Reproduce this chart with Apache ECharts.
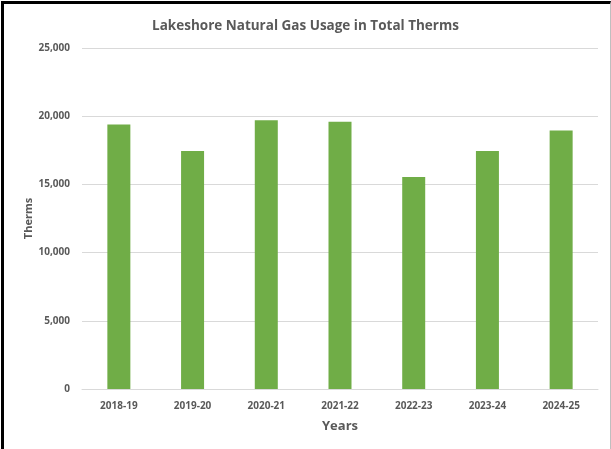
<!DOCTYPE html>
<html>
<head>
<meta charset="utf-8">
<script src="https://cdn.jsdelivr.net/npm/echarts@6/dist/echarts.min.js"></script>
<style>
  html, body { margin: 0; padding: 0; background: #fff; }
  #frame {
    position: absolute; left: 1px; top: 1px; width: 606px; height: 448px;
    border-left: 3px solid #000; border-top: 3px solid #000; border-right: 1px solid #bfbfbf;
  }
  #main { position: absolute; left: 0; top: 0; width: 611px; height: 449px; }
</style>
</head>
<body>
<div id="frame"></div>
<div id="main"></div>
<script>
var categories = ['2018-19', '2019-20', '2020-21', '2021-22', '2022-23', '2023-24', '2024-25'];
var therms = [19400, 17450, 19700, 19600, 15550, 17450, 18950];
var yTicks = [0, 5000, 10000, 15000, 20000, 25000];

var chartDom = document.getElementById('main');
var myChart = echarts.init(chartDom);
var option;

var labelFont = 'Open Sans';
var textGray = '#595959';

option = {
  title: {
    text: 'Lakeshore Natural Gas Usage in Total Therms',
    left: 'center',
    top: 14,
    textStyle: { fontFamily: labelFont, fontSize: 13.5, fontWeight: 'bold', color: textGray }
  },
  grid: { left: 82, right: 13, top: 48, bottom: 60 },
  xAxis: {
    type: 'category',
    data: categories,
    name: 'Years',
    nameLocation: 'middle',
    nameGap: 31,
    nameMoveOverlap: false,
    nameTextStyle: { fontFamily: labelFont, fontSize: 13, fontWeight: 'bold', color: textGray },
    axisTick: { show: false },
    axisLine: { lineStyle: { color: '#d9d9d9' } },
    axisLabel: { fontFamily: labelFont, fontSize: 10, fontWeight: 'bold', color: textGray, margin: 12 }
  },
  yAxis: {
    type: 'value',
    min: yTicks[0],
    max: yTicks[yTicks.length - 1],
    interval: yTicks[1] - yTicks[0],
    name: 'Therms',
    nameLocation: 'middle',
    nameGap: 48,
    nameMoveOverlap: false,
    nameTextStyle: { fontFamily: labelFont, fontSize: 11, fontWeight: 'bold', color: textGray },
    axisLabel: {
      fontFamily: labelFont, fontSize: 10, fontWeight: 'bold', color: textGray, margin: 12,
      formatter: function (v) { return v.toLocaleString('en-US'); }
    },
    splitLine: { lineStyle: { color: '#d9d9d9' } }
  },
  series: [
    {
      type: 'bar',
      data: therms,
      barWidth: 23,
      itemStyle: { color: '#70ad47' }
    }
  ]
};

option && myChart.setOption(option);
</script>
</body>
</html>
